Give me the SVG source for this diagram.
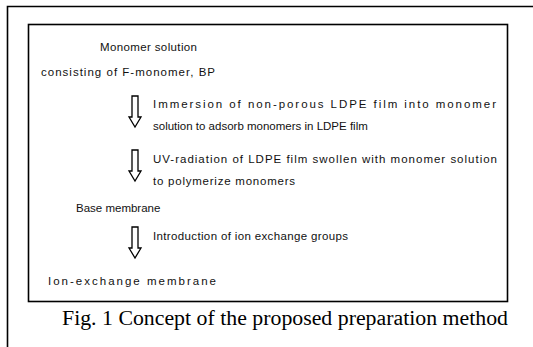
<svg xmlns="http://www.w3.org/2000/svg" width="533" height="347" viewBox="0 0 533 347">
<defs>
<style>
.t{font-family:"Liberation Sans",Arial,sans-serif;font-size:11.5px;fill:#111}
.cap{font-family:"Liberation Serif","Times New Roman",serif;font-size:20px;fill:#000}
.frame{fill:none;stroke:#000;stroke-width:1.6}
.arr{fill:#fff;stroke:#000;stroke-width:1.3;stroke-linejoin:miter}
</style>
<path id="arrowShape" d="M-3,0 H3 V21 H6 L0,31 L-6,21 H-3 Z"/>
</defs>
<rect width="533" height="347" fill="#fff"/>
<path class="frame" d="M7.5,347 V6.5 H533"/>
<rect class="frame" x="28.5" y="24.5" width="479" height="277"/>
<g id="node-monomer">
<text class="t" x="100" y="51" textLength="97">Monomer solution</text>
<text class="t" x="41" y="76" textLength="174">consisting of F-monomer, BP</text>
</g>
<g id="node-base">
<text class="t" x="76" y="212">Base membrane</text>
</g>
<g id="node-ion">
<text class="t" x="48" y="285" textLength="168">Ion-exchange membrane</text>
</g>
<g id="connectors">
<g id="step1">
<use href="#arrowShape" class="arr" x="135" y="96"/>
<text class="t" x="153" y="108" textLength="343">Immersion of non-porous LDPE film into monomer</text>
<text class="t" x="153" y="130">solution to adsorb monomers in LDPE film</text>
</g>
<g id="step2">
<use href="#arrowShape" class="arr" x="135" y="150"/>
<text class="t" x="153" y="163" textLength="344">UV-radiation of LDPE film swollen with monomer solution</text>
<text class="t" x="153" y="185" textLength="142">to polymerize monomers</text>
</g>
<g id="step3">
<use href="#arrowShape" class="arr" x="135" y="227"/>
<text class="t" x="153" y="240" textLength="195">Introduction of ion exchange groups</text>
</g>
</g>
<text class="cap" x="62" y="325" textLength="446" lengthAdjust="spacingAndGlyphs">Fig. 1 Concept of the proposed preparation method</text>
</svg>
